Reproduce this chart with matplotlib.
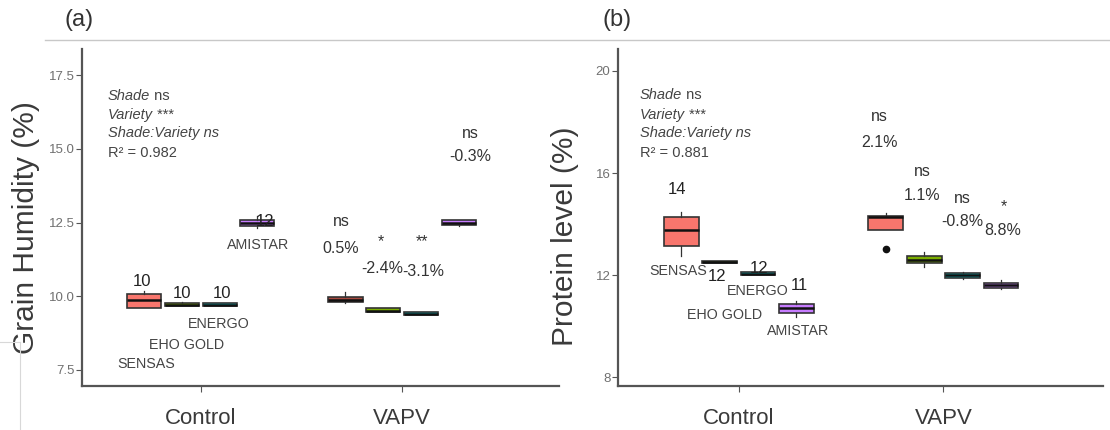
import numpy as np
import matplotlib.pyplot as plt
from matplotlib.lines import Line2D

plt.rcParams['font.family'] = ['Liberation Sans', 'DejaVu Sans']

# =============================
# DATA
# =============================
groups = ["Control", "VAPV"]
varieties = ["SENSAS", "EHO GOLD", "ENERGO", "AMISTAR"]
fills = ["#F8766D", "#7CAE00", "#00BFC4", "#C77CFF"]

# box stats per variety: [whislo, q1, med, q3, whishi]
hum_control = [[9.59, 9.59, 9.86, 10.07, 10.17],
               [9.65, 9.65, 9.70, 9.76, 9.78],
               [9.65, 9.65, 9.70, 9.75, 9.75],
               [12.30, 12.38, 12.50, 12.60, 12.72]]
hum_vapv = [[9.76, 9.80, 9.88, 9.97, 10.15],
            [9.45, 9.45, 9.50, 9.58, 9.60],
            [9.36, 9.36, 9.40, 9.44, 9.44],
            [12.38, 12.40, 12.50, 12.57, 12.60]]

prot_control = [[12.75, 13.14, 13.76, 14.27, 14.47],
                [12.46, 12.46, 12.50, 12.54, 12.54],
                [12.00, 12.00, 12.05, 12.10, 12.10],
                [10.35, 10.50, 10.70, 10.85, 11.00]]
prot_vapv = [[13.76, 13.76, 14.27, 14.33, 14.42],
             [12.30, 12.47, 12.60, 12.75, 12.90],
             [11.85, 11.90, 12.00, 12.08, 12.12],
             [11.45, 11.50, 11.60, 11.70, 11.80]]
prot_outliers_vapv = [[13.02], [], [], []]

# annotations: (text, x, y)
hum_labels = [("10", 0.706, 10.48), ("10", 0.905, 10.10), ("10", 1.104, 10.10), ("12", 1.318, 12.52)]
hum_names = [("SENSAS", 0.73, 7.69), ("EHO GOLD", 0.93, 8.33), ("ENERGO", 1.09, 9.05), ("AMISTAR", 1.284, 11.73)]
hum_sig = [("ns", 1.697, 12.52), ("0.5%", 1.697, 11.63), ("*", 1.896, 11.85), ("-2.4%", 1.90, 10.95),
           ("**", 2.10, 11.85), ("-3.1%", 2.104, 10.82), ("ns", 2.338, 15.54), ("-0.3%", 2.338, 14.73)]
hum_stats = ["0.982", 0.537, [16.80, 16.16, 15.54, 14.86]]

prot_labels = [("14", 0.698, 15.37), ("12", 0.893, 11.96), ("12", 1.098, 12.24), ("11", 1.298, 11.60)]
prot_names = [("SENSAS", 0.702, 12.16), ("EHO GOLD", 0.932, 10.43), ("ENERGO", 1.093, 11.37), ("AMISTAR", 1.288, 9.80)]
prot_sig = [("ns", 1.688, 18.20), ("2.1%", 1.688, 17.18), ("ns", 1.898, 16.04), ("1.1%", 1.898, 15.10),
            ("ns", 2.093, 15.02), ("-0.8%", 2.093, 14.08), ("*", 2.298, 14.70), ("8.8%", 2.288, 13.73)]
prot_stats = ["0.881", 0.517, [19.06, 18.27, 17.57, 16.78]]

# =============================
# HELPERS
# =============================
offsets = (np.arange(len(varieties)) - 1.5) * 0.1875


def draw_boxes(ax, stats_by_group, outliers_by_group, fill_override=None):
    for g, stats in enumerate(stats_by_group):
        for v, s in enumerate(stats):
            st = dict(whislo=s[0], q1=s[1], med=s[2], q3=s[3], whishi=s[4],
                      fliers=outliers_by_group[g][v] if outliers_by_group else [])
            fc = fills[v]
            if fill_override and (g, v) in fill_override:
                fc = fill_override[(g, v)]
            ax.bxp([st], positions=[g + 1 + offsets[v]], widths=0.17, patch_artist=True,
                   showcaps=False,
                   boxprops=dict(facecolor=fc, edgecolor="#333333", linewidth=1.2),
                   medianprops=dict(color="#111111", linewidth=1.8),
                   whiskerprops=dict(color="#333333", linewidth=0.9),
                   flierprops=dict(marker="o", markerfacecolor="#111111",
                                   markeredgecolor="#111111", markersize=4.5),
                   manage_ticks=False)


def style_axis(ax, ylim, yticks, yticklabels, ylabel, label_xy):
    ax.set_xlim(0.41, 2.78)
    ax.set_ylim(*ylim)
    ax.set_yticks(yticks)
    ax.set_yticklabels(yticklabels)
    ax.set_xticks([1, 2])
    ax.set_xticklabels(groups)
    for side in ["top", "right"]:
        ax.spines[side].set_visible(False)
    for side in ["left", "bottom"]:
        ax.spines[side].set_color("#555555")
        ax.spines[side].set_linewidth(1.6)
    ax.tick_params(axis="y", labelsize=9.5, labelcolor="#707070", color="#555555", length=4, pad=1.5)
    ax.tick_params(axis="x", labelsize=16, labelcolor="#3a3a3a", color="#555555", length=4, pad=12)
    ax.set_ylabel(ylabel, fontsize=21.5, color="#3a3a3a", va="center")
    ax.yaxis.set_label_coords(*label_xy)


def draw_text(ax, labels, names, sig, stats):
    for t, x, y in labels:
        ax.text(x, y, t, ha="center", va="center", fontsize=12, color="#222222")
    for t, x, y in names:
        ax.text(x, y, t, ha="center", va="center", fontsize=10.3, color="#444444")
    for t, x, y in sig:
        ax.text(x, y, t, ha="center", va="center", fontsize=11.5, color="#333333")
    r2, sx, sy = stats
    kw = dict(fontsize=10.5, color="#444444", va="center", ha="left")
    t1 = ax.text(sx, sy[0], "Shade", style="italic", **kw)
    ax.annotate(" ns", xy=(1, 0), xycoords=t1, va="bottom", ha="left", fontsize=10.5, color="#444444")
    t2 = ax.text(sx, sy[1], "Variety", style="italic", **kw)
    ax.annotate(" ***", xy=(1, 0), xycoords=t2, va="bottom", ha="left", fontsize=10.5, color="#444444")
    ax.text(sx, sy[2], "Shade:Variety ns", style="italic", **kw)
    ax.text(sx, sy[3], "R² = " + r2, **kw)


# =============================
# FIGURE
# =============================
fig = plt.figure(figsize=(11.1, 4.3), dpi=100)
ax1 = fig.add_axes([0.0739, 0.1023, 0.4297, 0.7837])
ax2 = fig.add_axes([0.5568, 0.1023, 0.4369, 0.7837])

draw_boxes(ax1, [hum_control, hum_vapv], None, fill_override={(1, 0): "#a8493f"})
style_axis(ax1, (6.94, 18.4), [7.5, 10.0, 12.5, 15.0, 17.5],
           ["7.5", "10.0", "12.5", "15.0", "17.5"], "Grain Humidity (%)", (-0.117, 0.469))
draw_text(ax1, hum_labels, hum_names, hum_sig, hum_stats)

draw_boxes(ax2, [prot_control, prot_vapv], [[[], [], [], []], prot_outliers_vapv])
style_axis(ax2, (7.65, 20.86), [8, 12, 16, 20], ["8", "12", "16", "20"], "Protein level (%)", (-0.109, 0.445))
draw_text(ax2, prot_labels, prot_names, prot_sig, prot_stats)

# panel letters and frame lines from the original layout
fig.text(79 / 1110, 1 - 20 / 430, "(a)", fontsize=17, color="#333333", ha="center", va="center")
fig.text(617 / 1110, 1 - 20 / 430, "(b)", fontsize=17, color="#333333", ha="center", va="center")
fig.add_artist(Line2D([45 / 1110, 1.0], [1 - 40 / 430, 1 - 40 / 430], color="#c8c8c8", linewidth=1.0))
fig.add_artist(Line2D([0, 20 / 1110], [1 - 342 / 430, 1 - 342 / 430], color="#d8d8d8", linewidth=0.8))
fig.add_artist(Line2D([20 / 1110, 20 / 1110], [1 - 342 / 430, 0], color="#d8d8d8", linewidth=0.8))

fig.savefig("out.png", dpi=100)
